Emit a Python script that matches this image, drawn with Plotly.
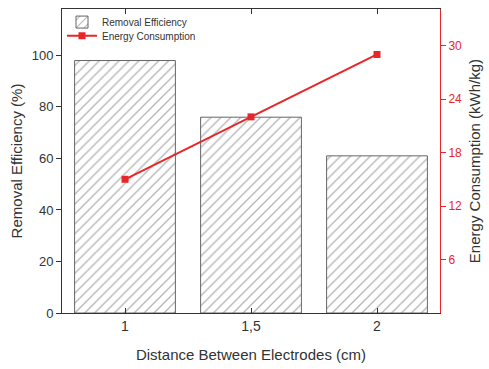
import plotly.graph_objects as go

categories = ["1", "1,5", "2"]
removal_eff = [98, 76, 61]
energy = [15, 22, 29]
left_ticks = [0, 20, 40, 60, 80, 100]
right_ticks = [6, 12, 18, 24, 30]

RED = "#e8262a"
FONT = "Liberation Sans, Arial, sans-serif"

fig = go.Figure()
fig.add_trace(go.Bar(
    x=categories, y=removal_eff, name="Removal Efficiency", width=0.8,
    legend="legend",
    marker=dict(color="white", line=dict(color="#666666", width=1),
                pattern=dict(shape="/", fgcolor="#666666", bgcolor="white", size=7, solidity=0.18)),
))
fig.add_trace(go.Scatter(
    x=categories, y=energy, name="Energy Consumption", yaxis="y2",
    legend="legend2",
    mode="lines+markers", line=dict(color=RED, width=2),
    marker=dict(symbol="square", size=7, color=RED),
))

leg_common = dict(xanchor="left", yanchor="middle", bgcolor="rgba(0,0,0,0)",
                  font=dict(size=10, color="#333333"), itemwidth=30)

fig.update_layout(
    width=489, height=369,
    margin=dict(l=62, r=46, t=8, b=56),
    plot_bgcolor="white", paper_bgcolor="white",
    font=dict(family=FONT, color="#333333", size=13),
    showlegend=True,
    legend=dict(x=0.0, y=0.957, **leg_common),
    legend2=dict(x=0.0, y=0.912, **leg_common),
    xaxis=dict(type="category", range=[-0.5, 2.5],
               showline=True, linecolor="#333333", linewidth=1, mirror="ticks",
               ticks="inside", ticklen=5, tickcolor="#333333",
               tickfont=dict(size=14),
               title=dict(text="Distance Between Electrodes (cm)", font=dict(size=15), standoff=16),
               showgrid=False),
    yaxis=dict(range=[0, 118], tickvals=left_ticks,
               showline=True, linecolor="#333333", linewidth=1,
               ticks="outside", ticklen=5, tickcolor="#333333",
               tickfont=dict(size=13),
               title=dict(text="Removal Efficiency (%)", font=dict(size=15), standoff=5),
               showgrid=False, zeroline=False),
    yaxis2=dict(range=[0, 34.1], tickvals=right_ticks, overlaying="y", side="right",
                showline=True, linecolor=RED, linewidth=1,
                ticks="outside", ticklen=5, tickcolor=RED,
                tickfont=dict(color=RED, size=12),
                title=dict(text="Energy Consumption (kWh/kg)", font=dict(size=15, color="#333333"), standoff=8),
                showgrid=False, zeroline=False),
)
fig.write_html("out.html")
